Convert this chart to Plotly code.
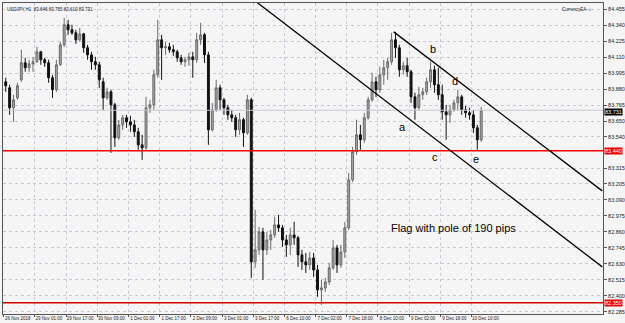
import plotly.graph_objects as go

# ---- data (2-hour candles) ----
opens = [83.935,83.892,83.749,83.820,83.949,84.071,84.036,84.064,84.079,84.150,
         84.093,84.071,83.964,83.878,84.057,84.200,84.344,84.308,84.286,84.236,
         84.279,84.179,84.128,84.079,84.057,83.935,83.820,83.863,83.770,83.533,
         83.626,83.677,83.648,83.626,83.577,83.483,83.461,83.749,83.770,83.985,
         84.236,84.179,84.186,84.165,84.150,84.107,84.079,84.093,84.114,84.093,
         84.236,84.272,84.128,83.591,83.734,83.892,83.806,83.749,83.698,83.677,
         83.591,83.663,83.569,83.806,82.644,82.730,82.859,82.730,82.801,82.837,
         82.909,82.888,82.801,82.766,82.837,82.816,82.694,82.644,82.622,82.672,
         82.586,82.443,82.457,82.500,82.601,82.744,82.622,82.715,82.888,83.232,
         83.433,83.555,83.519,83.677,83.806,83.935,83.878,83.985,84.036,84.079,
         84.236,84.179,84.021,84.050,84.007,83.827,83.749,83.842,83.863,83.935,
         84.021,83.914,83.842,83.720,83.698,83.734,83.784,83.827,83.734,83.713,
         83.698,83.605,83.519]
highs = [83.964,83.914,83.842,83.928,84.165,84.107,84.093,84.114,84.186,84.157,
         84.107,84.093,83.985,84.093,84.222,84.394,84.380,84.344,84.308,84.322,
         84.286,84.200,84.150,84.114,84.079,83.964,83.892,83.878,83.784,83.662,
         83.698,83.698,83.691,83.662,83.605,83.555,83.827,83.806,84.021,84.380,
         84.272,84.222,84.215,84.200,84.165,84.128,84.114,84.143,84.150,84.286,
         84.358,84.286,84.150,83.784,83.949,83.914,83.820,83.770,83.734,83.698,
         83.713,83.677,83.842,83.820,83.017,82.895,82.888,82.859,82.873,82.967,
         82.981,82.909,82.837,82.888,82.931,82.830,82.730,82.708,82.715,82.708,
         82.622,82.515,82.529,82.637,82.801,82.766,82.766,82.931,83.282,83.468,
         83.663,83.626,83.713,83.827,84.000,83.971,84.043,84.093,84.107,84.286,
         84.293,84.200,84.079,84.107,84.021,83.856,83.899,83.892,83.964,84.079,
         84.050,84.036,83.914,83.770,83.770,83.806,83.878,83.842,83.763,83.749,
         83.734,83.626,83.755]
lows = [83.863,83.698,83.648,83.806,83.935,84.007,84.007,84.007,84.071,84.057,
        84.043,83.928,83.820,83.863,84.050,84.186,84.272,84.272,84.207,84.222,
        84.143,84.093,84.021,84.021,83.892,83.734,83.806,83.426,83.468,83.519,
        83.590,83.605,83.577,83.540,83.447,83.375,83.447,83.713,83.734,83.964,
        83.949,84.128,84.143,84.121,84.079,84.057,84.043,84.050,83.964,84.071,
        84.200,84.071,83.483,83.577,83.720,83.734,83.698,83.663,83.648,83.540,
        83.555,83.468,83.555,82.529,82.601,82.694,82.515,82.694,82.730,82.816,
        82.859,82.751,82.680,82.694,82.766,82.608,82.586,82.565,82.586,82.536,
        82.393,82.335,82.429,82.479,82.586,82.565,82.601,82.672,82.873,83.217,
        83.411,83.447,83.497,83.663,83.792,83.827,83.856,83.914,83.949,84.057,
        84.107,83.971,83.985,83.971,83.784,83.663,83.734,83.806,83.842,83.892,
        83.856,83.806,83.663,83.519,83.641,83.720,83.734,83.698,83.677,83.663,
        83.569,83.447,83.505]
closes = [83.906,83.749,83.806,83.906,84.071,84.036,84.064,84.079,84.150,84.093,
          84.071,83.964,83.878,84.057,84.200,84.344,84.308,84.286,84.236,84.279,
          84.179,84.128,84.079,84.057,83.949,83.820,83.863,83.770,83.533,83.626,
          83.677,83.648,83.626,83.577,83.483,83.461,83.749,83.770,83.985,84.236,
          84.179,84.186,84.165,84.150,84.107,84.079,84.093,84.114,84.093,84.236,
          84.272,84.128,83.591,83.734,83.892,83.806,83.749,83.698,83.677,83.591,
          83.663,83.569,83.806,82.644,82.730,82.859,82.730,82.801,82.837,82.909,
          82.888,82.801,82.766,82.837,82.816,82.694,82.644,82.622,82.672,82.586,
          82.443,82.457,82.500,82.601,82.744,82.622,82.715,82.888,83.232,83.433,
          83.555,83.519,83.677,83.806,83.935,83.878,83.985,84.036,84.079,84.236,
          84.179,84.021,84.050,84.007,83.827,83.749,83.842,83.863,83.935,84.021,
          83.914,83.842,83.720,83.698,83.734,83.784,83.827,83.734,83.713,83.698,
          83.605,83.519,83.731]
hours = [2 * i + 1 for i in range(len(closes))]

date_ticks = [0, 16, 32, 48, 64, 80, 96, 112, 128, 144, 160, 176, 192, 208, 224, 240]
date_labels = ["26 Nov 2018", "29 Nov 01:00", "29 Nov 17:00", "30 Nov 09:00",
               "1 Dec 01:00", "1 Dec 17:00", "2 Dec 09:00", "3 Dec 01:00",
               "3 Dec 17:00", "6 Dec 10:00", "7 Dec 02:00", "7 Dec 18:00",
               "8 Dec 10:00", "9 Dec 02:00", "9 Dec 18:00", "10 Dec 10:00"]
price_ticks = [84.455, 84.340, 84.225, 84.110, 83.995, 83.880, 83.765, 83.650,
               83.540, 83.315, 83.205, 83.090, 82.975, 82.860, 82.745, 82.630,
               82.515, 82.400, 82.285]

support_level = 83.440
low_level = 82.350
last_price = 83.731

# trend-line channel (hour, price)
lower_line_t = [129.5, 307.1]
lower_line_p = [84.509, 82.608]
upper_line_t = [200.1, 307.1]
upper_line_p = [84.293, 83.153]

labels_txt = ["a", "b", "c", "d", "e"]
labels_t = [204.7, 220.1, 221.1, 231.3, 242.1]
labels_p = [83.612, 84.171, 83.397, 83.942, 83.382]

note_text = "Flag with pole of 190 pips"
note_t, note_p = 197.5, 82.887

header = "USDJPY,H1  83.646 83.755 83.610 83.731"

# ---- figure ----
fig = go.Figure()
XR = [-0.4, 307.5]
YR = [82.27, 84.50]

for lvl, col, w in [(support_level, "#ff0000", 1.5), (low_level, "#d00000", 1.5),
                    (last_price, "#c8c8d0", 1)]:
    fig.add_trace(go.Scatter(x=XR, y=[lvl, lvl], mode="lines",
                             line=dict(color=col, width=w), hoverinfo="skip"))

fig.add_trace(go.Candlestick(
    x=hours, open=opens, high=highs, low=lows, close=closes,
    increasing=dict(line=dict(color="#6a6a6a", width=1), fillcolor="#a8a8a8"),
    decreasing=dict(line=dict(color="#111111", width=1), fillcolor="#111111"),
    whiskerwidth=0,
))

for tt, pp in [(lower_line_t, lower_line_p), (upper_line_t, upper_line_p)]:
    fig.add_trace(go.Scatter(x=tt, y=pp, mode="lines",
                             line=dict(color="#000000", width=1.3), hoverinfo="skip"))

for t, p, s in zip(labels_t, labels_p, labels_txt):
    fig.add_annotation(x=t, y=p, text=s, showarrow=False, xref="x", yref="y",
                       font=dict(family="Liberation Sans, Arial", size=11, color="#000"))
fig.add_annotation(x=note_t, y=note_p, text=note_text, showarrow=False, xref="x", yref="y",
                   xanchor="left", font=dict(family="Liberation Sans, Arial", size=11, color="#000"))

fam = "Liberation Sans, Arial"
small = dict(family=fam, size=5.5, color="#222")
tiny = dict(family=fam, size=4.5, color="#222")
fig.add_annotation(x=0.004, y=0.993, xref="paper", yref="paper", xanchor="left", yanchor="top",
                   text=header, showarrow=False, font=tiny)
fig.add_annotation(x=0.985, y=0.993, xref="paper", yref="paper", xanchor="right", yanchor="top",
                   text="CurrencyEA ☺", showarrow=False, font=tiny)

for lvl, bg, ys in [(support_level, "#ee0000", 0), (low_level, "#ee0000", 0),
                    (last_price, "#000000", -2)]:
    fig.add_annotation(x=1.0, y=lvl, xref="paper", yref="y", xanchor="left", yanchor="middle",
                       text=f"{lvl:.3f}", showarrow=False, bgcolor=bg, borderpad=0,
                       xshift=1, yshift=ys,
                       font=dict(family=fam, size=5.5, color="#ffffff"))

fig.update_layout(
    width=625, height=323,
    margin=dict(l=3, r=22, t=3, b=9, autoexpand=False),
    paper_bgcolor="#f5f5f5", plot_bgcolor="#f5f5f5",
    showlegend=False,
    xaxis=dict(range=XR, tickmode="array", tickvals=date_ticks, ticktext=date_labels,
               showgrid=True, gridcolor="#c9c9db", griddash="dot", gridwidth=1,
               zeroline=False, showline=True, linecolor="#555", linewidth=1, mirror=True,
               ticks="outside", ticklen=2, tickcolor="#555", ticklabelshift=14,
               ticklabelstandoff=-2, tickangle=0, automargin=False,
               tickfont=tiny, rangeslider=dict(visible=False), fixedrange=True),
    yaxis=dict(range=YR, side="right", tickmode="array", tickvals=price_ticks,
               ticktext=[f"{v:.3f}" for v in price_ticks], automargin=False,
               showgrid=True, gridcolor="#c9c9db", griddash="dot", gridwidth=1,
               zeroline=False, showline=True, linecolor="#555", linewidth=1, mirror=True,
               ticks="outside", ticklen=3, tickcolor="#555", tickfont=small, fixedrange=True),
)

fig.write_html("out.html")
